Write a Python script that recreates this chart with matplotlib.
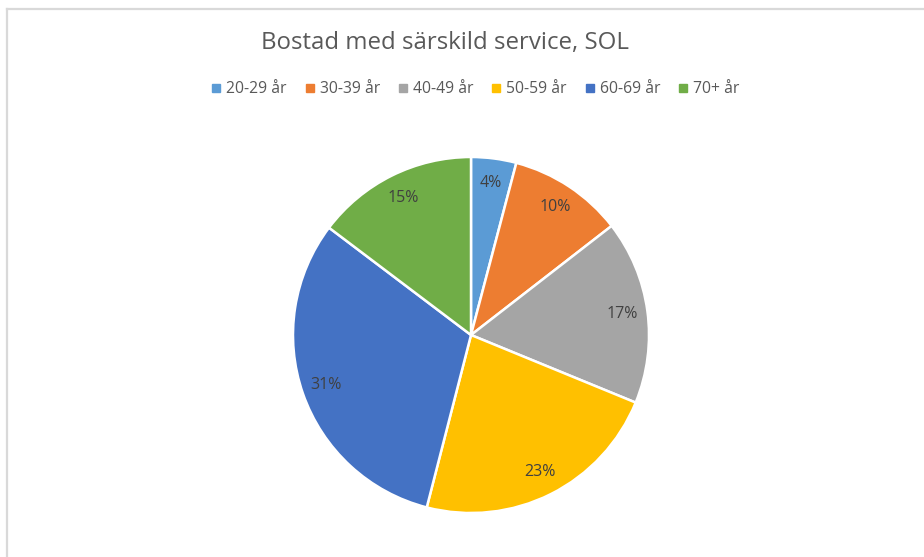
import matplotlib
matplotlib.use("Agg")
import matplotlib.pyplot as plt
from matplotlib.lines import Line2D

categories = ["20-29 år", "30-39 år", "40-49 år", "50-59 år", "60-69 år", "70+ år"]
values = [4.1, 10.4, 16.7, 22.8, 31.3, 14.7]
labels_pct = ["4%", "10%", "17%", "23%", "31%", "15%"]
colors = ["#5B9BD5", "#ED7D31", "#A5A5A5", "#FFC000", "#4472C4", "#70AD47"]
title = "Bostad med särskild service, SOL"

plt.rcParams['font.family'] = ['Open Sans', 'DejaVu Sans']
W, H = 924, 557
fig = plt.figure(figsize=(W/100, H/100), dpi=100)
fig.patch.set_facecolor("white")

# border lines
fig.add_artist(Line2D([7/W, 7/W], [0, 1 - 9/H], color="#D9D9D9", lw=1.6, transform=fig.transFigure))
fig.add_artist(Line2D([7/W, 1], [1 - 9/H, 1 - 9/H], color="#D9D9D9", lw=1.6, transform=fig.transFigure))

cx, cy, R = 471, 335, 178
ax = fig.add_axes([(cx - R)/W, (H - cy - R)/H, 2*R/W, 2*R/H])
wedges, texts = ax.pie(values, colors=colors, startangle=90, counterclock=False,
                       labels=labels_pct, labeldistance=0.86,
                       wedgeprops=dict(edgecolor="white", linewidth=1.8),
                       textprops=dict(color="#404040", fontsize=11.5, ha="center", va="center"))
ax.set_aspect("equal")
ax.set_xlim(-1, 1); ax.set_ylim(-1, 1)
ax.axis("off")

fig.text(445/W, 1 - 43/H, title, ha="center", va="center", fontsize=17.3, color="#595959")

handles = [Line2D([], [], marker="s", linestyle="none", markersize=5.5, markerfacecolor=c, markeredgecolor=c) for c in colors]
fig.legend(handles, categories, loc="center", bbox_to_anchor=(474/W, 1 - 89/H), ncol=6, frameon=False,
           fontsize=11.3, labelcolor="#595959", handletextpad=0.15, columnspacing=0.95, handlelength=1.0)

fig.savefig("out.png", dpi=100, facecolor="white")
